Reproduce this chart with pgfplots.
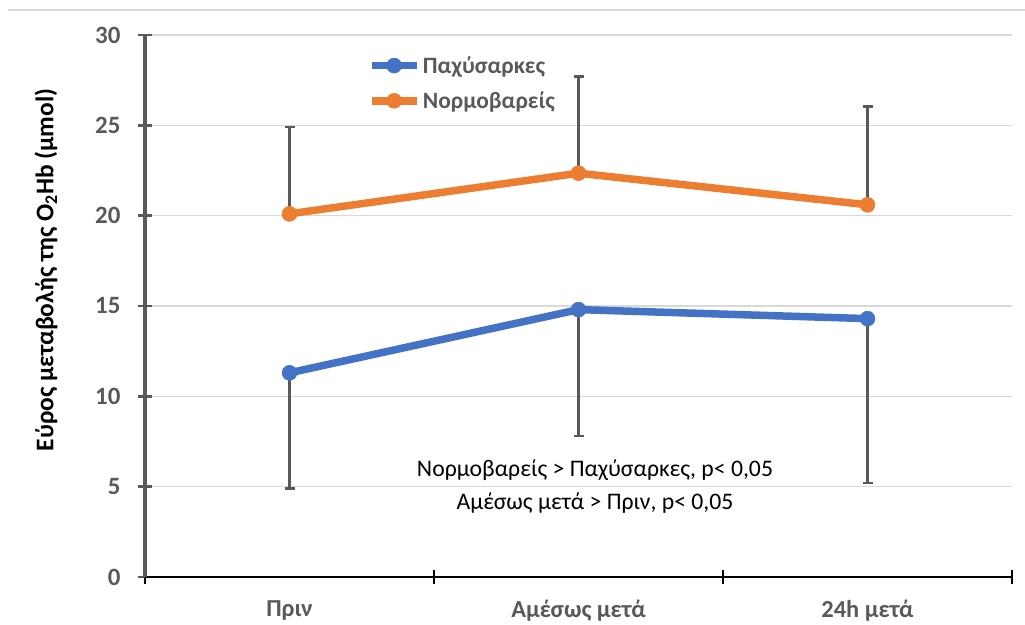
\documentclass[border=0pt]{standalone}
\usepackage{fontspec}
\setmainfont{Carlito}
\usepackage{pgfplots}
\pgfplotsset{compat=1.18}
\definecolor{cblue}{HTML}{4472C4}
\definecolor{corange}{HTML}{ED7D31}
\definecolor{cgray}{HTML}{595959}
\definecolor{cgrid}{HTML}{D9D9D9}
\begin{document}
\begin{tikzpicture}[x=1bp,y=1bp]
\useasboundingbox (-145,-48) rectangle (880,577);
\draw[cgrid, line width=1.2bp] (-137,567) -- (880,567);
\begin{axis}[
 at={(0,0)}, anchor=south west,
 scale only axis, width=867bp, height=542bp,
 xmin=0, xmax=3, ymin=0, ymax=30,
 clip=false,
 axis lines*=left,
 x axis line style={black, line width=2.5bp},
 y axis line style={cgray, line width=3.5bp},
 xtick={0.5,1.5,2.5},
 xticklabels={Πριν, Αμέσως μετά, 24h μετά},
 minor xtick={0,1,2,3},
 ytick={0,5,...,30},
 tick align=center,
 major tick length=14bp,
 minor tick length=14bp,
 major x tick style={draw=none},
 minor x tick style={black, line width=2bp},
 major y tick style={cgray, line width=2.5bp},
 ymajorgrids,
 grid style={cgrid, line width=1.2bp},
 /pgf/number format/assume math mode=true,
 xticklabel style={font=\bfseries\fontsize{24.5}{28}\selectfont, text=cgray, yshift=-13bp},
 yticklabel style={font=\bfseries\fontsize{25}{28}\selectfont, text=cgray, xshift=-14bp},
 legend style={draw=none, fill=none, at={(rel axis cs:0.254,0.968)}, anchor=north west,
   font=\bfseries\fontsize{23.5}{27}\selectfont, text=cgray, row sep=13bp,
   /tikz/every even column/.append style={column sep=0bp}},
 legend cell align=left,
 legend image code/.code={\draw[mark repeat=2,mark phase=2,#1] plot coordinates {(0bp,0bp) (22bp,0bp) (45bp,0bp)};},
]
% error bars only
\addplot[forget plot, draw=none, mark=none,
  error bars/.cd, y dir=minus, y explicit,
  error bar style={draw=cgray, line width=3bp},
  error mark options={rotate=90, mark size=5bp, draw=cgray, line width=2.5bp}]
coordinates {(0.5,11.3) -= (0,6.4) (1.5,14.8) -= (0,7.0) (2.5,14.3) -= (0,9.1)};
\addplot[forget plot, draw=none, mark=none,
  error bars/.cd, y dir=plus, y explicit,
  error bar style={draw=cgray, line width=3bp},
  error mark options={rotate=90, mark size=5bp, draw=cgray, line width=2.5bp}]
coordinates {(0.5,20.1) += (0,4.8) (1.5,22.35) += (0,5.35) (2.5,20.6) += (0,5.45)};
% lines
\addplot[draw=cblue, line width=7.5bp, line join=round, mark=*, mark size=7.5bp, mark options={solid, fill=cblue, line width=0.5bp}]
coordinates {(0.5,11.3) (1.5,14.8) (2.5,14.3)};
\addlegendentry{Παχύσαρκες}
\addplot[draw=corange, line width=7.5bp, line join=round, mark=*, mark size=7.5bp, mark options={solid, fill=corange, line width=0.5bp}]
coordinates {(0.5,20.1) (1.5,22.35) (2.5,20.6)};
\addlegendentry{Νορμοβαρείς}
\node[font=\fontsize{23.8}{27}\selectfont, text=black] at (axis cs:1.557,5.92) {Νορμοβαρείς > Παχύσαρκες, p< 0,05};
\node[font=\fontsize{23.8}{27}\selectfont, text=black] at (axis cs:1.557,4.1) {Αμέσως μετά > Πριν, p< 0,05};
\end{axis}
\node[rotate=90, font=\bfseries\fontsize{25.5}{29}\selectfont, text=black] at (-99,307) {Εύρος μεταβολής της O\textsubscript{2}Hb (μmol)};
\end{tikzpicture}
\end{document}
